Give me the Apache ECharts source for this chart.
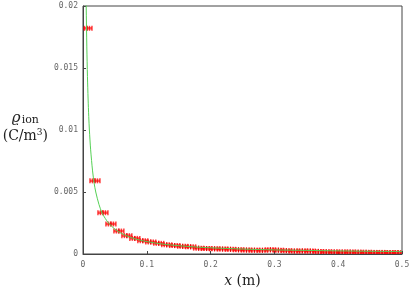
<!DOCTYPE html>
<html><head><meta charset="utf-8">
<script src="https://cdn.jsdelivr.net/npm/echarts@6/dist/echarts.min.js"></script>
<style>html,body{margin:0;padding:0;background:#fff}#c{width:415px;height:288px}</style>
</head><body><div id="c"></div>
<script>
// Binned measurement: bin centres (m) and charge density (C/m^3)
const binCenters = [0.00625,0.01875,0.03125,0.04375,0.05625,0.06875,0.08125,0.09375,0.10625,0.11875,
  0.13125,0.14375,0.15625,0.16875,0.18125,0.19375,0.20625,0.21875,0.23125,0.24375,
  0.25625,0.26875,0.28125,0.29375,0.30625,0.31875,0.33125,0.34375,0.35625,0.36875,
  0.38125,0.39375,0.40625,0.41875,0.43125,0.44375,0.45625,0.46875,0.48125,0.49375];
const binValues = [0.0182,0.0059,0.00333,0.00242,0.00185,0.00148,0.00126,0.00107,0.00097,0.00086,
  0.00074,0.00068,0.00062,0.00058,0.00047,0.00044,0.00042,0.0004,0.00038,0.00034,
  0.00032,0.00031,0.0003,0.00034,0.00031,0.00027,0.00024,0.00025,0.00024,0.00021,
  0.00018,0.00017,0.00016,0.00016,0.00015,0.00014,0.00013,0.00013,0.00012,0.00012];
const binHalfWidth = 0.0078;
// Model curve
const curveX = [0.0045,0.005,0.006,0.007,0.008,0.009,0.01,0.012,0.015,0.0175,0.02,0.025,0.03,0.035,0.04,0.05,0.06,0.07,0.08,0.09,0.1,0.125,0.15,0.175,0.2,0.25,0.3,0.35,0.4,0.45,0.5];
const curveY = [0.0222,0.02,0.0167,0.0143,0.0125,0.0111,0.01,0.0084,0.0067,0.0057,0.005,0.004,0.0033,0.00286,0.0025,0.002,0.00167,0.00143,0.00125,0.00111,0.001,0.0008,0.00067,0.00057,0.0005,0.0004,0.00033,0.00029,0.00025,0.00022,0.0002];
const xTicks = [0,0.1,0.2,0.3,0.4,0.5];
const yTicks = [0,0.005,0.01,0.015,0.02];

const chart = echarts.init(document.getElementById('c'), null, {renderer:'canvas'});
const tickFont = {fontFamily:'DejaVu Sans Mono', fontSize:8, color:'#666'};
chart.setOption({
  animation:false,
  grid:{left:83, right:13, top:6, bottom:34, containLabel:false, outerBoundsMode:'none',
    show:true, borderColor:'#444', borderWidth:1, backgroundColor:'transparent'},
  xAxis:{type:'value', min:xTicks[0], max:xTicks[xTicks.length-1], interval:0.1,
    axisLine:{show:true, lineStyle:{color:'#444'}},
    axisTick:{show:true, inside:true, length:3, lineStyle:{color:'#444'}},
    splitLine:{show:false},
    axisLabel:Object.assign({margin:7, formatter:v=>String(+v.toFixed(3))}, tickFont),
    name:'{i|x} (m)', nameLocation:'middle', nameGap:19,
    nameTextStyle:{fontFamily:'DejaVu Serif', fontSize:14, color:'#222',
      rich:{i:{fontFamily:'DejaVu Serif', fontStyle:'italic', fontSize:14, color:'#222'}}}
  },
  yAxis:{type:'value', min:yTicks[0], max:yTicks[yTicks.length-1], interval:0.005,
    axisLine:{show:true, lineStyle:{color:'#444'}},
    axisTick:{show:true, inside:true, length:3, lineStyle:{color:'#444'}},
    splitLine:{show:false},
    axisLabel:Object.assign({margin:5, formatter:v=>String(+v.toFixed(4))}, tickFont),
    name:'{r|ϱ}{s|ion}\n{b|(C/m}{p|3}{b|)}', nameLocation:'middle', nameRotate:0, nameGap:33,
    nameTextStyle:{fontFamily:'DejaVu Serif', fontSize:14, color:'#222', align:'center', lineHeight:18, padding:[0,0,6,0],
      rich:{
        r:{fontFamily:'DejaVu Serif', fontStyle:'italic', fontSize:15, color:'#222', lineHeight:18},
        s:{fontFamily:'DejaVu Serif', fontSize:11, color:'#222', padding:[5,0,0,1], lineHeight:18},
        b:{fontFamily:'DejaVu Serif', fontSize:14, color:'#222', lineHeight:18},
        p:{fontFamily:'DejaVu Serif', fontSize:9, color:'#222', padding:[0,0,7,0], lineHeight:18}
      }}
  },
  series:[
    {type:'line', data:curveX.map((x,i)=>[x,curveY[i]]), showSymbol:false, smooth:0.3, clip:true,
      lineStyle:{color:'#55d055', width:1}, z:3},
    {type:'custom', clip:true, z:2,
      data:binCenters.map((x,i)=>[x,binValues[i]]),
      renderItem:function(params, api){
        const xc = api.value(0), y = api.value(1);
        const pL = api.coord([xc-binHalfWidth, y]);
        const pR = api.coord([xc+binHalfWidth, y]);
        const pc = api.coord([xc, y]);
        const st = {stroke:'rgba(255,0,0,0.75)', lineWidth:1.5};
        const children = [
          {type:'line', shape:{x1:pL[0], y1:pc[1], x2:pR[0], y2:pc[1]}, style:{stroke:'rgba(255,0,0,0.6)', lineWidth:2.5}}
        ];
        const n = 4;
        for (let k=0;k<=n;k++){
          const xx = pL[0] + (pR[0]-pL[0])*(k/n);
          children.push({type:'line', shape:{x1:xx, y1:pc[1]-2.5, x2:xx, y2:pc[1]+2.5}, style:st});
        }
        children.push({type:'line', shape:{x1:pc[0], y1:pc[1]-2.5, x2:pc[0], y2:pc[1]+2.5}, style:{stroke:'#e00000', lineWidth:1}});
        return {type:'group', children:children};
      }}
  ]
});
</script></body></html>
